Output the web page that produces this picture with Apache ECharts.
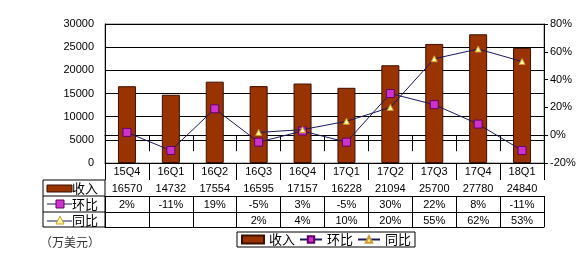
<!DOCTYPE html>
<html>
<head>
<meta charset="utf-8">
<script src="https://cdn.jsdelivr.net/npm/echarts@6/dist/echarts.min.js"></script>
<style>
  html, body { margin: 0; padding: 0; background: #fff; }
  #chart { width: 584px; height: 258px; }
</style>
</head>
<body>
<div id="chart"></div>
<script>
// 季度
var quarters = ['15Q4', '16Q1', '16Q2', '16Q3', '16Q4', '17Q1', '17Q2', '17Q3', '17Q4', '18Q1'];
// 收入（万美元）
var revenue = [16570, 14732, 17554, 16595, 17157, 16228, 21094, 25700, 27780, 24840];
// 环比 %
var qoq = [2, -11, 19, -5, 3, -5, 30, 22, 8, -11];
// 同比 %
var yoy = [null, null, null, 2, 4, 10, 20, 55, 62, 53];

var numFont = 'Liberation Sans';
var cjkFont = 'Noto Sans CJK SC';
var lineColor = '#1a1a5e';

function rowAxis(data, offset, tickLen) {
  return {
    type: 'category',
    data: data,
    position: 'bottom',
    offset: offset,
    axisLine: { show: true, lineStyle: { color: '#000', width: 1 } },
    axisTick: { show: tickLen > 0, length: tickLen, alignWithLabel: false, lineStyle: { color: '#000' } },
    axisLabel: { show: true, interval: 0, margin: 3, color: '#000', fontSize: 11, fontFamily: numFont },
    splitLine: { show: false }
  };
}

var chart = echarts.init(document.getElementById('chart'));
var option = {
  backgroundColor: '#fff',
  animation: false,
  grid: {
    left: 105, right: 40, top: 24, bottom: 95,
    show: true, borderColor: '#808080', borderWidth: 1
  },
  legend: {
    left: 237, top: 232,
    padding: [1, 4, 1, 4],
    borderColor: '#000', borderWidth: 1,
    itemGap: 4, itemWidth: 22, itemHeight: 8,
    textStyle: { fontFamily: cjkFont, fontSize: 13, color: '#000' },
    data: [
      { name: '收入', icon: 'rect' },
      { name: '环比' },
      { name: '同比' }
    ]
  },
  xAxis: [
    rowAxis(quarters, 0, 17),
    rowAxis(revenue.map(String), 17, 16),
    rowAxis(qoq.map(function (v) { return v + '%'; }), 33, 16),
    rowAxis(yoy.map(function (v) { return v == null ? '' : v + '%'; }), 49, 15),
    Object.assign(rowAxis(quarters, 64, 0), { axisLabel: { show: false } })
  ],
  yAxis: [
    {
      type: 'value', min: 0, max: 30000, interval: 5000,
      axisLine: { show: true, lineStyle: { color: '#000' } },
      axisTick: { show: false },
      axisLabel: { margin: 11, color: '#000', fontSize: 11, fontFamily: numFont, formatter: function (v) { return String(v); } },
      splitLine: { show: true, lineStyle: { color: '#000', width: 1 } }
    },
    {
      type: 'value', min: -20, max: 80, interval: 20, position: 'right',
      axisLine: { show: true, lineStyle: { color: '#000' } },
      axisTick: { show: true, length: 4, lineStyle: { color: '#000' } },
      axisLabel: { margin: 6, color: '#000', fontSize: 11, fontFamily: numFont, formatter: '{value}%' },
      splitLine: { show: false }
    }
  ],
  series: [
    {
      name: '收入', type: 'bar', data: revenue,
      xAxisIndex: 0, yAxisIndex: 0,
      barWidth: 18,
      itemStyle: { color: '#993300', borderColor: '#3a1000', borderWidth: 1 }
    },
    {
      name: '环比', type: 'line', data: qoq,
      xAxisIndex: 0, yAxisIndex: 1, z: 5,
      symbol: 'rect', symbolSize: 8,
      lineStyle: { color: lineColor, width: 1 },
      itemStyle: { color: '#cc33cc', borderColor: '#660066', borderWidth: 1 }
    },
    {
      name: '同比', type: 'line', data: yoy,
      xAxisIndex: 0, yAxisIndex: 1, z: 6,
      symbol: 'triangle', symbolSize: 6,
      lineStyle: { color: lineColor, width: 1 },
      itemStyle: { color: '#ffff99', borderColor: '#cc9933', borderWidth: 1 }
    }
  ],
  graphic: [
    // 表格左侧表头
    { type: 'rect', shape: { x: 43, y: 180, width: 62, height: 47 }, style: { fill: 'none', stroke: '#000', lineWidth: 1 } },
    { type: 'line', shape: { x1: 43, y1: 196, x2: 105, y2: 196 }, style: { stroke: '#000' } },
    { type: 'line', shape: { x1: 43, y1: 212, x2: 105, y2: 212 }, style: { stroke: '#000' } },
    { type: 'rect', shape: { x: 47, y: 185, width: 25, height: 7 }, style: { fill: '#993300', stroke: '#3a1000' } },
    { type: 'text', x: 72, y: 188, style: { text: '收入', fontFamily: cjkFont, fontSize: 13, fill: '#000', verticalAlign: 'middle' } },
    { type: 'line', shape: { x1: 47, y1: 204, x2: 72, y2: 204 }, style: { stroke: lineColor } },
    { type: 'rect', shape: { x: 56, y: 200, width: 8, height: 8 }, style: { fill: '#cc33cc', stroke: '#660066' } },
    { type: 'text', x: 72, y: 204, style: { text: '环比', fontFamily: cjkFont, fontSize: 13, fill: '#000', verticalAlign: 'middle' } },
    { type: 'line', shape: { x1: 47, y1: 221, x2: 72, y2: 221 }, style: { stroke: lineColor } },
    { type: 'polygon', shape: { points: [[60, 216], [56, 224], [64, 224]] }, style: { fill: '#ffff99', stroke: '#cc9933' } },
    { type: 'text', x: 72, y: 220, style: { text: '同比', fontFamily: cjkFont, fontSize: 13, fill: '#000', verticalAlign: 'middle' } },
    { type: 'text', x: 40, y: 242, style: { text: '（万美元）', fontFamily: cjkFont, fontSize: 12, fill: '#333', verticalAlign: 'middle' } }
  ]
};
chart.setOption(option);
</script>
</body>
</html>
